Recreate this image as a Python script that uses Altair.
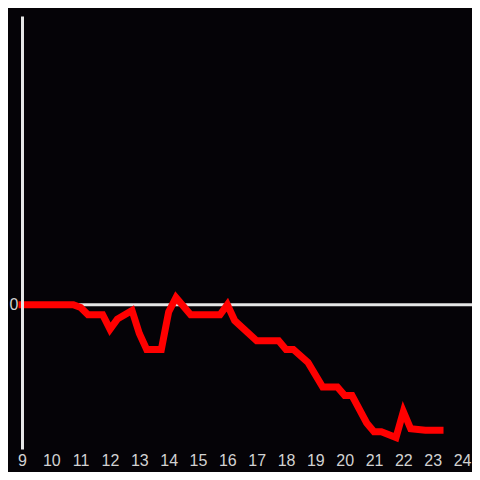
import altair as alt
import pandas as pd

hours = [9, 10.75, 11.0, 11.25, 11.75, 12.0, 12.25, 12.75, 13.0, 13.25, 13.75, 14.0,
         14.25, 14.75, 15.75, 16.0, 16.25, 17.0, 17.75, 18.0, 18.25, 18.75, 19.25,
         19.75, 20.0, 20.25, 20.75, 21.0, 21.25, 21.75, 22.0, 22.25, 22.75, 23.25]
values = [0, 0, -0.02, -0.07, -0.07, -0.17, -0.10, -0.04, -0.20, -0.31, -0.31, -0.05,
          0.05, -0.07, -0.07, 0.0, -0.11, -0.25, -0.25, -0.31, -0.31, -0.40, -0.57,
          -0.57, -0.63, -0.63, -0.82, -0.88, -0.88, -0.92, -0.74, -0.86, -0.87, -0.87]
x_ticks = list(range(9, 25))

df = pd.DataFrame({"hour": hours, "value": values})

BG = "#050307"
AX = "#e6e6e6"
LBL = "#d2d2d2"

xscale = alt.Scale(domain=[9, 24.34], nice=False, zero=False)
yscale = alt.Scale(domain=[-1, 2], nice=False)

yaxis = alt.Axis(values=[0], ticks=False, grid=False, domain=True,
                 domainColor=AX, domainWidth=3, zindex=1,
                 labelColor=LBL, labelFontSize=16, labelFont="Liberation Sans",
                 labelPadding=4)
xaxis = alt.Axis(values=x_ticks, ticks=False, domain=False, grid=False,
                 labelColor=LBL, labelFontSize=16, labelFont="Liberation Sans",
                 labelPadding=3, labelFlush=False, labelOverlap=False)

zero = alt.Chart(pd.DataFrame({"y": [0]})).mark_rule(
    color=AX, strokeWidth=3
).encode(y=alt.Y("y:Q", scale=yscale, title=None, axis=yaxis))

line = alt.Chart(df).mark_line(color="#ff0000", strokeWidth=7, strokeJoin="miter",
                               strokeCap="square").encode(
    x=alt.X("hour:Q", scale=xscale, title=None, axis=xaxis),
    y=alt.Y("value:Q", scale=yscale, title=None, axis=yaxis),
)

chart = alt.layer(zero, line).properties(
    width=450, height=433,
    background=BG,
    autosize=alt.AutoSizeParams(type="none"),
    padding={"left": 14, "top": 8, "right": 0, "bottom": 23},
).configure_view(stroke=None)

chart.save("out.html", embed_options={"renderer": "svg", "actions": False})
